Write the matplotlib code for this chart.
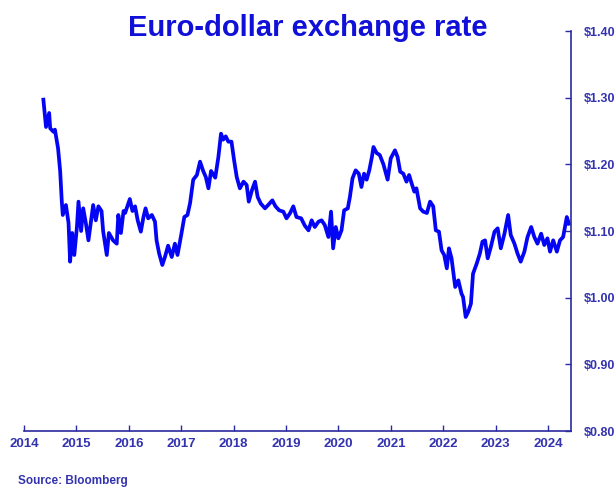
import numpy as np
import matplotlib as mpl
import matplotlib.pyplot as plt
from matplotlib.ticker import FuncFormatter

# EUR/USD (decimal year, dollars per euro)
years = [
    2014.37, 2014.42, 2014.48, 2014.50, 2014.56, 2014.59, 2014.65, 2014.69, 2014.72, 2014.74,
    2014.80, 2014.85, 2014.88, 2014.92, 2014.96, 2015.01, 2015.04, 2015.09, 2015.13, 2015.18,
    2015.23, 2015.28, 2015.32, 2015.37, 2015.42, 2015.48, 2015.51, 2015.58, 2015.62, 2015.70,
    2015.77, 2015.80, 2015.85, 2015.90, 2015.93, 2016.02, 2016.07, 2016.12, 2016.17, 2016.23,
    2016.28, 2016.32, 2016.37, 2016.44, 2016.50, 2016.53, 2016.58, 2016.64, 2016.69, 2016.75,
    2016.82, 2016.88, 2016.93, 2017.00, 2017.06, 2017.12, 2017.17, 2017.23, 2017.30, 2017.36,
    2017.42, 2017.47, 2017.52, 2017.57, 2017.65, 2017.71, 2017.76, 2017.80, 2017.85, 2017.90,
    2017.96, 2018.01, 2018.06, 2018.12, 2018.19, 2018.25, 2018.29, 2018.35, 2018.41, 2018.46,
    2018.52, 2018.60, 2018.66, 2018.74, 2018.80, 2018.87, 2018.95, 2019.01, 2019.08, 2019.14,
    2019.20, 2019.29, 2019.36, 2019.43, 2019.49, 2019.55, 2019.62, 2019.68, 2019.74, 2019.81,
    2019.86, 2019.90, 2019.95, 2020.00, 2020.06, 2020.11, 2020.18, 2020.22, 2020.27, 2020.33,
    2020.39, 2020.44, 2020.49, 2020.54, 2020.59, 2020.64, 2020.67, 2020.73, 2020.79, 2020.86,
    2020.94, 2021.00, 2021.08, 2021.13, 2021.18, 2021.24, 2021.30, 2021.35, 2021.40, 2021.45,
    2021.49, 2021.56, 2021.62, 2021.69, 2021.75, 2021.81, 2021.86, 2021.92, 2021.97, 2022.02,
    2022.07, 2022.11, 2022.16, 2022.23, 2022.29, 2022.35, 2022.38, 2022.43, 2022.48, 2022.53,
    2022.57, 2022.64, 2022.70, 2022.75, 2022.80, 2022.85, 2022.91, 2022.98, 2023.04, 2023.10,
    2023.17, 2023.24, 2023.29, 2023.36, 2023.42, 2023.48, 2023.55, 2023.61, 2023.68, 2023.74,
    2023.80, 2023.87, 2023.93, 2023.99, 2024.04, 2024.10, 2024.17, 2024.23, 2024.29, 2024.36,
    2024.40,
]
rate = [
    1.297, 1.256, 1.277, 1.254, 1.249, 1.252, 1.224, 1.190, 1.146, 1.124,
    1.139, 1.112, 1.054, 1.097, 1.064, 1.106, 1.144, 1.100, 1.134, 1.112,
    1.086, 1.116, 1.139, 1.116, 1.137, 1.130, 1.100, 1.064, 1.097, 1.086,
    1.081, 1.124, 1.097, 1.130, 1.127, 1.148, 1.130, 1.137, 1.116, 1.099,
    1.121, 1.134, 1.119, 1.124, 1.114, 1.086, 1.066, 1.049, 1.061, 1.078,
    1.061, 1.081, 1.064, 1.094, 1.121, 1.124, 1.142, 1.177, 1.184, 1.204,
    1.190, 1.181, 1.164, 1.190, 1.180, 1.211, 1.246, 1.237, 1.242, 1.234,
    1.234, 1.206, 1.181, 1.164, 1.174, 1.169, 1.144, 1.161, 1.174, 1.151,
    1.141, 1.134, 1.139, 1.146, 1.137, 1.131, 1.129, 1.119, 1.127, 1.137,
    1.121, 1.119, 1.108, 1.101, 1.116, 1.106, 1.114, 1.116, 1.109, 1.091,
    1.129, 1.074, 1.106, 1.089, 1.101, 1.131, 1.134, 1.151, 1.179, 1.191,
    1.186, 1.166, 1.186, 1.177, 1.191, 1.211, 1.226, 1.217, 1.214, 1.200,
    1.177, 1.209, 1.221, 1.211, 1.189, 1.186, 1.174, 1.184, 1.171, 1.159,
    1.164, 1.134, 1.129, 1.127, 1.144, 1.137, 1.101, 1.099, 1.071, 1.064,
    1.044, 1.074, 1.059, 1.016, 1.026, 1.006, 1.001, 0.971, 0.979, 0.991,
    1.036, 1.051, 1.066, 1.084, 1.086, 1.059, 1.076, 1.099, 1.104, 1.074,
    1.096, 1.124, 1.094, 1.081, 1.066, 1.054, 1.069, 1.091, 1.106, 1.091,
    1.081, 1.096, 1.079, 1.089, 1.069, 1.086, 1.069, 1.086, 1.091, 1.121,
    1.111,
]
year_ticks = list(range(2014, 2025))
rate_ticks = [0.80, 0.90, 1.00, 1.10, 1.20, 1.30, 1.40]

LINE = "#0505f5"
AXIS = "#2a2aa0"
TEXT = "#3333b0"

mpl.rcParams["font.family"] = ["Liberation Sans", "DejaVu Sans"]

fig = plt.figure(figsize=(6.16, 4.88), dpi=100)
ax = fig.add_axes([24 / 616, 57 / 488, 547 / 616, 400 / 488])

ax.plot(years, rate, color=LINE, lw=2.7, solid_joinstyle="round")

ax.set_xlim(2014, 2024.44)
ax.set_ylim(0.80, 1.40)

ax.yaxis.tick_right()
ax.set_yticks(rate_ticks)
ax.yaxis.set_major_formatter(FuncFormatter(lambda v, _: f"${v:.2f}"))
ax.set_xticks(year_ticks)

for side in ("top", "left"):
    ax.spines[side].set_visible(False)
for side in ("bottom", "right"):
    ax.spines[side].set_color(AXIS)
    ax.spines[side].set_linewidth(1.2)

ax.tick_params(axis="x", direction="in", length=4, width=1, color=AXIS,
               labelcolor=TEXT, labelsize=9.5, pad=5)
ax.tick_params(axis="y", direction="in", length=4, width=1, color=AXIS,
               labelcolor=TEXT, labelsize=9, pad=9, right=True, left=False)
for lab in ax.get_xticklabels() + ax.get_yticklabels():
    lab.set_fontweight("bold")

fig.text(0.5, 1 - 28 / 488, "Euro-dollar exchange rate", ha="center", va="center",
         fontsize=21, fontweight="bold", color="#1010d8")
fig.text(18 / 616, 1 - 481 / 488, "Source: Bloomberg", ha="left", va="center",
         fontsize=8.5, fontweight="bold", color=TEXT)

fig.savefig("out.png", dpi=100)
